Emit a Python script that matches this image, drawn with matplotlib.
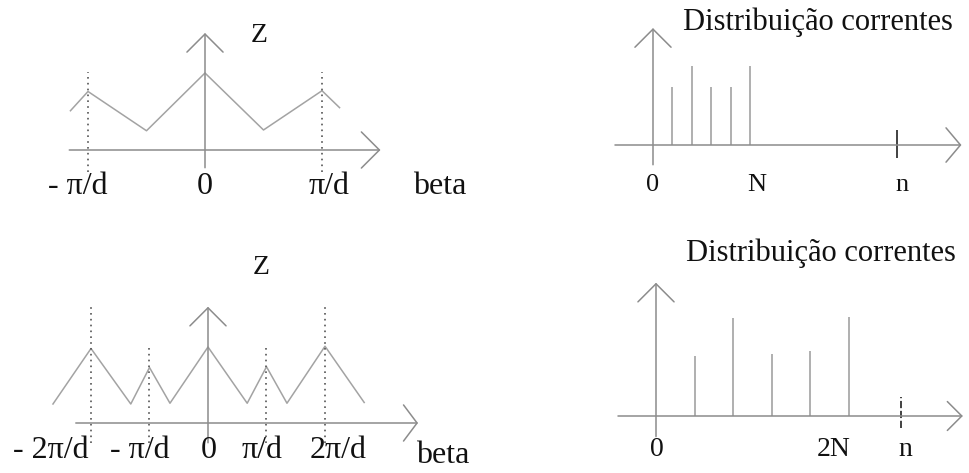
import matplotlib
matplotlib.use('Agg')
import matplotlib.pyplot as plt

# ---------------- data ----------------
# periodic impedance curves Z(beta), beta in units of pi/d
beta_top = [-1.15, -1.0, -0.5, 0.0, 0.5, 1.0, 1.15]
z_top = [0.51, 0.76, 0.25, 1.0, 0.26, 0.77, 0.55]
beta_bot = [-2.65, -2.0, -1.32, -1.0, -0.65, 0.0, 0.67, 1.0, 1.35, 2.0, 2.67]
z_bot = [0.25, 0.98, 0.25, 0.73, 0.26, 1.0, 0.26, 0.74, 0.26, 1.01, 0.27]

# dotted marker lines (beta positions and heights)
mark_top = [-1.0, 1.0]
mark_top_h = [1.01, 1.01]
mark_bot = [-2.0, -1.0, 1.0, 2.0]
mark_bot_h = [1.54, 1.01, 1.03, 1.56]

# beta axis tick labels
tick_top = [-1.0, 0.0, 1.0]
tick_top_lbl = ['- π/d', '0', 'π/d']
tick_bot = [-2.0, -1.0, 0.0, 1.0, 2.0]
tick_bot_lbl = ['- 2π/d', '- π/d', '0', 'π/d', '2π/d']

# current distributions
n_top = [1, 2, 3, 4, 5]
i_top = [0.73, 1.0, 0.73, 0.73, 1.0]
n_bot = [2, 4, 6, 8, 10]
i_bot = [0.61, 1.0, 0.63, 0.66, 1.01]
nmark_top = 12.6
nmark_bot = 12.7
ntick_top = [0, 5, nmark_top]
ntick_top_lbl = ['0', 'N', 'n']
ntick_bot = [0, 10, nmark_bot]
ntick_bot_lbl = ['0', '2N', 'n']

# ---------------- layout ----------------
W, H = 970, 473
fig = plt.figure(figsize=(W / 100, H / 100), dpi=100)
fig.patch.set_facecolor('white')
FONT = ['Liberation Serif', 'DejaVu Serif']
AX_C = '#8c8c8c'
CURVE_C = '#a3a3a3'
STEM_C = '#9a9a9a'
DOT_C = '#555555'


def panel(ox, oy, sx, sy, xlim, ylim):
    left = ox + xlim[0] * sx
    right = ox + xlim[1] * sx
    top = oy - ylim[1] * sy
    bottom = oy - ylim[0] * sy
    ax = fig.add_axes([left / W, 1 - bottom / H, (right - left) / W, (bottom - top) / H])
    ax.set_xlim(xlim)
    ax.set_ylim(ylim)
    ax.axis('off')
    return ax


def arrow(ax, start, end, hl=1.0, hw=1.0, ms=13):
    ax.annotate('', xy=end, xytext=start,
                arrowprops=dict(arrowstyle=f'->,head_length={hl},head_width={hw}',
                                color=AX_C, lw=1.1, shrinkA=0, shrinkB=0,
                                mutation_scale=ms),
                annotation_clip=False)


def labels(ax, xs, texts, dxs, dy, size):
    for x, t, dx in zip(xs, texts, dxs):
        ax.annotate(t, xy=(x, 0), xytext=(dx, dy), textcoords='offset pixels',
                    ha='center', va='center', fontsize=size, family=FONT,
                    color='#111111', annotation_clip=False)


# ---- top-left: Z(beta) ----
ax1 = panel(205, 150, 117, 77, (-1.7, 1.7), (-0.6, 1.65))
arrow(ax1, (-1.16, 0), (1.5, 0))
arrow(ax1, (0, -0.23), (0, 1.52))
ax1.plot(beta_top, z_top, color=CURVE_C, lw=1.1, clip_on=False)
ax1.vlines(mark_top, -0.29, mark_top_h, colors=DOT_C, linestyles=(0, (1, 2.5)), lw=1.2)
labels(ax1, tick_top, tick_top_lbl, [-10, 0, 7], -37, 23)

# ---- bottom-left ----
ax2 = panel(208, 423, 58.5, 76, (-3.4, 3.8), (-0.6, 1.65))
arrow(ax2, (-2.26, 0), (3.59, 0), hl=0.75)
arrow(ax2, (0, -0.26), (0, 1.53))
ax2.plot(beta_bot, z_bot, color=CURVE_C, lw=1.1, clip_on=False)
ax2.vlines(mark_bot, -0.26, mark_bot_h, colors=DOT_C, linestyles=(0, (1, 2.5)), lw=1.2)
labels(ax2, tick_bot, tick_bot_lbl, [-40, -10, 1, -4, 13], -27, 23)

# ---- top-right: current distribution ----
ax3 = panel(653, 145, 19.4, 79, (-2.5, 16.5), (-0.5, 1.6))
arrow(ax3, (-1.96, 0), (15.9, 0), hl=0.8, hw=0.95)
arrow(ax3, (0, -0.25), (0, 1.48))
ax3.vlines(n_top, 0, i_top, colors=STEM_C, lw=1.1)
ax3.vlines([nmark_top], -0.17, 0.19, colors='#333333', lw=1.3)
labels(ax3, ntick_top, ntick_top_lbl, [0, 7, 5], -40, 19)

# ---- bottom-right ----
ax4 = panel(656, 416, 19.3, 98, (-2.5, 16.5), (-0.4, 1.45))
arrow(ax4, (-1.97, 0), (15.9, 0), hl=0.8, hw=0.8)
arrow(ax4, (0, -0.21), (0, 1.36))
ax4.vlines(n_bot, 0, i_bot, colors=STEM_C, lw=1.1)
ax4.vlines([nmark_bot], -0.12, 0.19, colors='#333333', lw=1.3, linestyles=(0, (4, 1.5)))
labels(ax4, ntick_bot, ntick_bot_lbl, [1, -15, 4], -34, 20)

# ---- titles and axis names ----
def ftext(x, y, s, size, **kw):
    fig.text(x / W, 1 - y / H, s, fontsize=size, family=FONT, color='#111111',
             ha='center', va='center', **kw)

ftext(259, 36, 'Z', 20)
ftext(261, 268, 'Z', 20)
ftext(818, 22, 'Distribuição correntes', 22)
ftext(821, 253, 'Distribuição correntes', 22)
ftext(440, 186, 'beta', 23)
ftext(443, 455, 'beta', 23)

fig.savefig('out.png', dpi=100, facecolor='white')
